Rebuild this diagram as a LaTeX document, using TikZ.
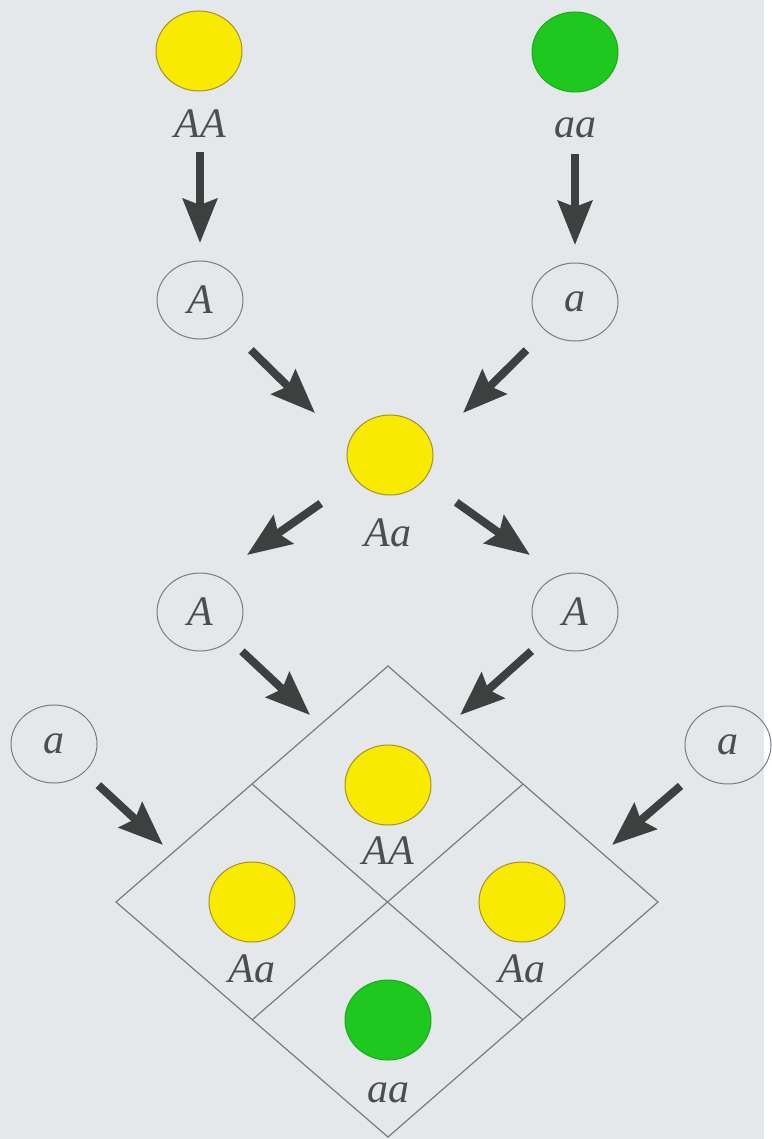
\documentclass[tikz,border=0pt]{standalone}
\usepackage{fontspec}
\setmainfont{Liberation Serif}
\usetikzlibrary{shapes.geometric,arrows.meta}
\definecolor{bg}{RGB}{228,232,235}
\definecolor{yel}{RGB}{248,234,0}
\definecolor{yedge}{RGB}{165,145,45}
\definecolor{grn}{RGB}{30,200,30}
\definecolor{gedge}{RGB}{25,170,25}
\definecolor{arrc}{RGB}{60,64,62}
\definecolor{linec}{RGB}{120,124,126}
\definecolor{txt}{RGB}{75,78,80}
\begin{document}
\begin{tikzpicture}[x=1pt,y=-1pt,
 pea/.style={ellipse,line width=1pt,minimum width=86pt,minimum height=80pt,inner sep=0pt},
 yp/.style={pea,fill=yel,draw=yedge},
 gp/.style={pea,fill=grn,draw=gedge},
 gam/.style={ellipse,draw=linec,line width=1pt,minimum width=86pt,minimum height=78pt,inner sep=0pt,font=\fontsize{42}{42}\selectfont\itshape,text=txt},
 lab/.style={anchor=base,inner sep=0pt,font=\fontsize{42}{42}\selectfont\itshape,text=txt},
 arr/.style={line width=8pt,draw=arrc,-{Stealth[length=44pt,width=34pt,inset=6pt]}},
 gridline/.style={draw=linec,line width=1.2pt}]
\fill[bg] (0,0) rectangle (764,1139);
% parents
\node[yp] (P1) at (199,51) {};
\node[gp] (P2) at (575,52) {};
\node[lab] (P1l) at (200,138) {AA};
\node[lab] (P2l) at (575,138) {aa};
% gametes
\node[gam] (g1) at (200,300) {A};
\node[gam] (g2) at (575,302) {a};
% F1
\node[yp] (F1) at (390,455) {};
\node[lab] (F1l) at (388,546) {Aa};
% F1 gametes
\node[gam] (g3) at (200,612) {A};
\node[gam] (g4) at (575,612) {A};
\node[gam] (g5) at (54,744) {a};
\node[gam] (g6) at (728,745) {a};
% diamond
\coordinate (T) at (388,666);
\coordinate (L) at (116,902);
\coordinate (R) at (658,902);
\coordinate (B) at (388,1137);
\coordinate (TL) at (252,784);
\coordinate (TR) at (523,784);
\coordinate (BL) at (252,1020);
\coordinate (BR) at (523,1020);
\draw[gridline] (T) -- (R) -- (B) -- (L) -- cycle;
\draw[gridline] (TL) -- (BR);
\draw[gridline] (TR) -- (BL);
% cells
\node[yp] (c1) at (388,785) {};
\node[lab] (c1l) at (388,864) {AA};
\node[yp] (c2) at (252,902) {};
\node[lab] (c2l) at (252,982) {Aa};
\node[yp] (c3) at (522,902) {};
\node[lab] (c3l) at (522,982) {Aa};
\node[gp] (c4) at (388,1020) {};
\node[lab] (c4l) at (388,1102) {aa};
% arrow tips
\coordinate (t1) at (200,243);
\coordinate (t2) at (575,245);
\coordinate (t3) at (315,413);
\coordinate (t4) at (463,413);
\coordinate (t5) at (247,555);
\coordinate (t6) at (530,555);
\coordinate (t7) at (310,715);
\coordinate (t8) at (460,715);
\coordinate (t9) at (163,845);
\coordinate (t10) at (612,845);
% arrows
\draw[arr,shorten <=14pt] (P1l) -- (t1);
\draw[arr,shorten <=15pt] (P2l) -- (t2);
\draw[arr,shorten <=30pt] (g1) -- (t3);
\draw[arr,shorten <=27pt] (g2) -- (t4);
\draw[arr,shorten <=42pt] (F1) -- (t5);
\draw[arr,shorten <=39pt] (F1) -- (t6);
\draw[arr,shorten <=16pt] (g3) -- (t7);
\draw[arr,shorten <=17pt] (g4) -- (t8);
\draw[arr,shorten <=19pt] (g5) -- (t9);
\draw[arr,shorten <=21pt] (g6) -- (t10);
\end{tikzpicture}
\end{document}
